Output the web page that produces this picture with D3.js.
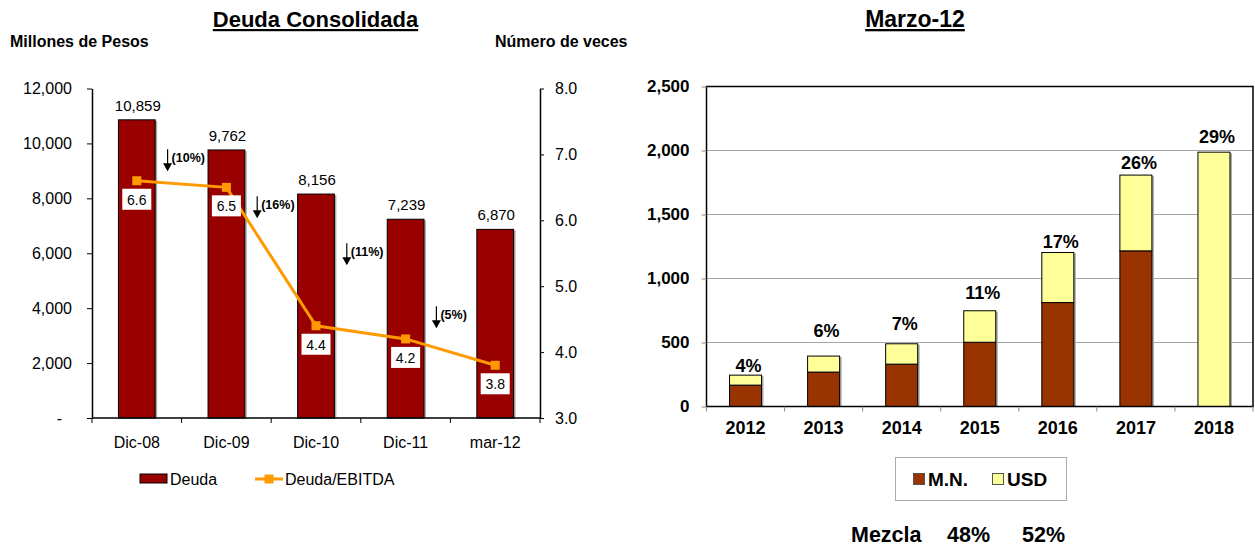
<!DOCTYPE html>
<html>
<head>
<meta charset="utf-8">
<script src="https://cdn.jsdelivr.net/npm/d3@7"></script>
<style>
  body { margin: 0; background: #fff; }
  text { font-family: Arial, "Liberation Sans", sans-serif; }
</style>
</head>
<body>
<div id="chart"></div>
<script>
var width = 1255;
var height = 546;

// Left chart: Deuda Consolidada
var periods = ['Dic-08', 'Dic-09', 'Dic-10', 'Dic-11', 'mar-12'];
var deuda = [10859, 9762, 8156, 7239, 6870];
var deudaEbitda = [6.6, 6.5, 4.4, 4.2, 3.8];
var reduccion = ['(10%)', '(16%)', '(11%)', '(5%)'];
// level (millones) where each reduction arrow starts
var reduccionAt = [9790, 8080, 6360, 4070];
var deudaTicks = [0, 2000, 4000, 6000, 8000, 10000, 12000];
var vecesTicks = [3, 4, 5, 6, 7, 8];

// Right chart: Marzo-12 maturities
var years = ['2012', '2013', '2014', '2015', '2016', '2017', '2018'];
var mn = [167, 269, 331, 502, 812, 1216, 0];
var usd = [78, 125, 159, 246, 391, 592, 1987];
var pct = ['4%', '6%', '7%', '11%', '17%', '26%', '29%'];
// level where each percentage label sits
var pctAt = [320, 594, 646, 888, 1289, 1902, 2109];
var vencTicks = [0, 500, 1000, 1500, 2000, 2500];
var mezcla = ['48%', '52%'];

var barRed = '#990000';
var lineOrange = '#FF9900';
var mnColor = '#993300';
var usdColor = '#FFFF99';

var svg = d3.select('#chart').append('svg')
    .attr('width', width)
    .attr('height', height);

// ---------- left chart ----------
var left = { x0: 92, x1: 540, y0: 418, y1: 88.5 };

var xL = d3.scaleBand().domain(periods).range([left.x0, left.x1]);
var yL = d3.scaleLinear().domain([0, 12000]).range([left.y0, left.y1]);
var yR = d3.scaleLinear().domain([3, 8]).range([left.y0, left.y1]);
var barW = xL.bandwidth() * 0.41;

svg.append('text')
    .attr('x', 315.5).attr('y', 27)
    .attr('text-anchor', 'middle')
    .attr('font-size', 22).attr('font-weight', 'bold')
    .attr('text-decoration', 'underline')
    .text('Deuda Consolidada');

svg.append('text')
    .attr('x', 10).attr('y', 47)
    .attr('font-size', 16).attr('font-weight', 'bold')
    .text('Millones de Pesos');

svg.append('text')
    .attr('x', 495).attr('y', 47)
    .attr('font-size', 16).attr('font-weight', 'bold')
    .text('Número de veces');

var gL = svg.append('g');

// bar shadows + bars
gL.selectAll('rect.shadow')
    .data(deuda)
    .enter().append('rect')
    .attr('class', 'shadow')
    .attr('x', function (d, i) { return xL(periods[i]) + (xL.bandwidth() - barW) / 2 + 2; })
    .attr('y', function (d) { return yL(d) + 1; })
    .attr('width', barW)
    .attr('height', function (d) { return left.y0 - yL(d) - 1; })
    .attr('fill', '#aaa');

gL.selectAll('rect.bar')
    .data(deuda)
    .enter().append('rect')
    .attr('class', 'bar')
    .attr('x', function (d, i) { return xL(periods[i]) + (xL.bandwidth() - barW) / 2; })
    .attr('y', function (d) { return yL(d); })
    .attr('width', barW)
    .attr('height', function (d) { return left.y0 - yL(d); })
    .attr('fill', barRed)
    .attr('stroke', '#000')
    .attr('stroke-width', 1);

gL.selectAll('text.val')
    .data(deuda)
    .enter().append('text')
    .attr('class', 'val')
    .attr('x', function (d, i) { return xL(periods[i]) + xL.bandwidth() / 2 + 1; })
    .attr('y', function (d) { return yL(d) - 9; })
    .attr('text-anchor', 'middle')
    .attr('font-size', 15)
    .text(d3.format(','));

// axes
var axisLeft = d3.axisLeft(yL)
    .tickValues(deudaTicks)
    .tickSize(5).tickSizeOuter(0).tickPadding(15)
    .tickFormat(function (d) { return d === 0 ? '-' : d3.format(',')(d); });
var axL = gL.append('g').attr('transform', 'translate(' + left.x0 + ',0)').call(axisLeft);
axL.selectAll('text').attr('font-size', 16).attr('font-family', 'Arial, "Liberation Sans", sans-serif')
    .attr('dx', function (d) { return d === 0 ? -10 : 0; });

var axisRight = d3.axisRight(yR)
    .tickValues(vecesTicks)
    .tickSize(4).tickSizeOuter(0).tickPadding(11)
    .tickFormat(d3.format('.1f'));
var axR = gL.append('g').attr('transform', 'translate(' + left.x1 + ',0)').call(axisRight);
axR.selectAll('text').attr('font-size', 16).attr('font-family', 'Arial, "Liberation Sans", sans-serif');

var axisBottom = d3.axisBottom(xL).tickSize(0).tickPadding(19);
var axB = gL.append('g').attr('transform', 'translate(0,' + left.y0 + ')').call(axisBottom);
axB.select('.domain').remove();
axB.selectAll('text').attr('font-size', 16).attr('font-family', 'Arial, "Liberation Sans", sans-serif');

gL.selectAll('.domain').attr('stroke', '#000').attr('stroke-width', 1.5);

gL.append('line')
    .attr('x1', left.x0).attr('x2', left.x1)
    .attr('y1', left.y0).attr('y2', left.y0)
    .attr('stroke', '#000').attr('stroke-width', 1.5);

var boundaries = periods.map(function (p) { return xL(p); }).concat([left.x1]);
gL.selectAll('line.xtick')
    .data(boundaries)
    .enter().append('line')
    .attr('class', 'xtick')
    .attr('x1', function (d) { return d; }).attr('x2', function (d) { return d; })
    .attr('y1', left.y0).attr('y2', left.y0 + 5)
    .attr('stroke', '#000');

// Deuda/EBITDA line
var line = d3.line()
    .x(function (d, i) { return xL(periods[i]) + xL.bandwidth() / 2; })
    .y(function (d) { return yR(d); });

gL.append('path')
    .datum(deudaEbitda)
    .attr('d', line)
    .attr('fill', 'none')
    .attr('stroke', lineOrange)
    .attr('stroke-width', 3);

gL.selectAll('rect.marker')
    .data(deudaEbitda)
    .enter().append('rect')
    .attr('class', 'marker')
    .attr('x', function (d, i) { return xL(periods[i]) + xL.bandwidth() / 2 - 4.5; })
    .attr('y', function (d) { return yR(d) - 4.5; })
    .attr('width', 9).attr('height', 9)
    .attr('fill', lineOrange);

var ratioLabels = gL.selectAll('g.ratio')
    .data(deudaEbitda)
    .enter().append('g')
    .attr('class', 'ratio')
    .attr('transform', function (d, i) {
        return 'translate(' + (xL(periods[i]) + xL.bandwidth() / 2) + ',' + (yR(d) + 8) + ')';
    });
ratioLabels.append('rect')
    .attr('x', -14.5).attr('y', 0)
    .attr('width', 29).attr('height', 21)
    .attr('fill', '#fff');
ratioLabels.append('text')
    .attr('x', 0).attr('y', 11)
    .attr('dy', '0.35em')
    .attr('text-anchor', 'middle')
    .attr('font-size', 14)
    .text(d3.format('.1f'));

// reduction arrows
var arrows = gL.selectAll('g.arrow')
    .data(reduccion)
    .enter().append('g')
    .attr('class', 'arrow')
    .attr('transform', function (d, i) {
        return 'translate(' + (xL(periods[i + 1]) - 14) + ',' + yL(reduccionAt[i]) + ')';
    });
arrows.append('line')
    .attr('x1', 0).attr('x2', 0)
    .attr('y1', 0).attr('y2', 16)
    .attr('stroke', '#000').attr('stroke-width', 1.2);
arrows.append('path')
    .attr('d', 'M-4.5,14L4.5,14L0,22Z')
    .attr('fill', '#000');
arrows.append('text')
    .attr('x', 4).attr('y', 8)
    .attr('dy', '0.35em')
    .attr('font-size', 12.5).attr('font-weight', 'bold')
    .text(function (d) { return d; });

// legend
var legL = svg.append('g');
legL.append('rect')
    .attr('x', 140).attr('y', 474).attr('width', 27).attr('height', 9)
    .attr('fill', barRed).attr('stroke', '#000');
legL.append('text')
    .attr('x', 170).attr('y', 479).attr('dy', '0.35em')
    .attr('font-size', 16).text('Deuda');
legL.append('line')
    .attr('x1', 255).attr('x2', 283).attr('y1', 479).attr('y2', 479)
    .attr('stroke', lineOrange).attr('stroke-width', 3);
legL.append('rect')
    .attr('x', 264.5).attr('y', 474.5).attr('width', 9).attr('height', 9)
    .attr('fill', lineOrange);
legL.append('text')
    .attr('x', 285).attr('y', 479).attr('dy', '0.35em')
    .attr('font-size', 16).text('Deuda/EBITDA');

// ---------- right chart ----------
var right = { x0: 706.5, x1: 1253, y0: 406.5, y1: 86.5 };

var xV = d3.scaleBand().domain(years).range([right.x0, right.x1]);
var yV = d3.scaleLinear().domain([0, 2500]).range([right.y0, right.y1]);
var barW2 = xV.bandwidth() * 0.41;

svg.append('text')
    .attr('x', 915).attr('y', 27)
    .attr('text-anchor', 'middle')
    .attr('font-size', 23).attr('font-weight', 'bold')
    .attr('text-decoration', 'underline')
    .text('Marzo-12');

var gR = svg.append('g');

gR.selectAll('line.grid')
    .data(vencTicks.slice(1, -1))
    .enter().append('line')
    .attr('class', 'grid')
    .attr('x1', right.x0).attr('x2', right.x1)
    .attr('y1', function (d) { return yV(d); }).attr('y2', function (d) { return yV(d); })
    .attr('stroke', '#a6a6a6').attr('stroke-width', 1);

var stacked = years.map(function (y, i) {
    return { year: y, mn: mn[i], usd: usd[i] };
});

function barX(d) { return xV(d.year) + (xV.bandwidth() - barW2) / 2; }

gR.selectAll('rect.shadow')
    .data(stacked)
    .enter().append('rect')
    .attr('class', 'shadow')
    .attr('x', function (d) { return barX(d) + 2; })
    .attr('y', function (d) { return yV(d.mn + d.usd) + 1; })
    .attr('width', barW2)
    .attr('height', function (d) { return right.y0 - yV(d.mn + d.usd) - 1; })
    .attr('fill', '#aaa');

gR.selectAll('rect.mn')
    .data(stacked.filter(function (d) { return d.mn > 0; }))
    .enter().append('rect')
    .attr('class', 'mn')
    .attr('x', barX)
    .attr('y', function (d) { return yV(d.mn); })
    .attr('width', barW2)
    .attr('height', function (d) { return right.y0 - yV(d.mn); })
    .attr('fill', mnColor).attr('stroke', '#000').attr('stroke-width', 1);

gR.selectAll('rect.usd')
    .data(stacked)
    .enter().append('rect')
    .attr('class', 'usd')
    .attr('x', barX)
    .attr('y', function (d) { return yV(d.mn + d.usd); })
    .attr('width', barW2)
    .attr('height', function (d) { return yV(d.mn) - yV(d.mn + d.usd); })
    .attr('fill', usdColor).attr('stroke', '#000').attr('stroke-width', 1);

gR.selectAll('text.pct')
    .data(pct)
    .enter().append('text')
    .attr('class', 'pct')
    .attr('x', function (d, i) { return xV(years[i]) + xV.bandwidth() / 2 + 3; })
    .attr('y', function (d, i) { return yV(pctAt[i]); })
    .attr('dy', '0.35em')
    .attr('text-anchor', 'middle')
    .attr('font-size', 18).attr('font-weight', 'bold')
    .text(function (d) { return d; });

// frame
gR.append('rect')
    .attr('x', right.x0).attr('y', right.y1)
    .attr('width', right.x1 - right.x0).attr('height', right.y0 - right.y1)
    .attr('fill', 'none').attr('stroke', '#000').attr('stroke-width', 1.5);

var axisV = d3.axisLeft(yV)
    .tickValues(vencTicks)
    .tickSize(5).tickSizeOuter(0).tickPadding(12)
    .tickFormat(d3.format(','));
var axV = gR.append('g').attr('transform', 'translate(' + right.x0 + ',0)').call(axisV);
axV.select('.domain').remove();
axV.selectAll('line').attr('stroke', '#888');
axV.selectAll('text').attr('font-size', 17).attr('font-weight', 'bold')
    .attr('font-family', 'Arial, "Liberation Sans", sans-serif');

var axisY = d3.axisBottom(xV).tickSize(0).tickPadding(15);
var axY = gR.append('g').attr('transform', 'translate(0,' + right.y0 + ')').call(axisY);
axY.select('.domain').remove();
axY.selectAll('text').attr('font-size', 18).attr('font-weight', 'bold')
    .attr('font-family', 'Arial, "Liberation Sans", sans-serif');

var boundaries2 = years.map(function (y) { return xV(y); }).concat([right.x1]);
gR.selectAll('line.xtick')
    .data(boundaries2)
    .enter().append('line')
    .attr('class', 'xtick')
    .attr('x1', function (d) { return d; }).attr('x2', function (d) { return d; })
    .attr('y1', right.y0).attr('y2', right.y0 + 5)
    .attr('stroke', '#888');

// legend box
var legR = svg.append('g');
legR.append('rect')
    .attr('x', 895.5).attr('y', 457.5).attr('width', 171).attr('height', 43)
    .attr('fill', '#fff').attr('stroke', '#aaa');
legR.append('rect')
    .attr('x', 913.5).attr('y', 473.5).attr('width', 11).attr('height', 11)
    .attr('fill', mnColor).attr('stroke', '#555');
legR.append('text')
    .attr('x', 928).attr('y', 479).attr('dy', '0.35em')
    .attr('font-size', 19).attr('font-weight', 'bold').text('M.N.');
legR.append('rect')
    .attr('x', 992.5).attr('y', 473.5).attr('width', 11).attr('height', 11)
    .attr('fill', usdColor).attr('stroke', '#555');
legR.append('text')
    .attr('x', 1007).attr('y', 479).attr('dy', '0.35em')
    .attr('font-size', 19).attr('font-weight', 'bold').text('USD');

// mezcla
var mezclaRow = svg.append('g').attr('font-size', 21.5).attr('font-weight', 'bold');
mezclaRow.append('text').attr('x', 851).attr('y', 534).attr('dy', '0.35em').text('Mezcla');
mezclaRow.selectAll('text.mz')
    .data(mezcla)
    .enter().append('text')
    .attr('class', 'mz')
    .attr('x', function (d, i) { return 947 + i * 75; })
    .attr('y', 534).attr('dy', '0.35em')
    .text(function (d) { return d; });
</script>
</body>
</html>
